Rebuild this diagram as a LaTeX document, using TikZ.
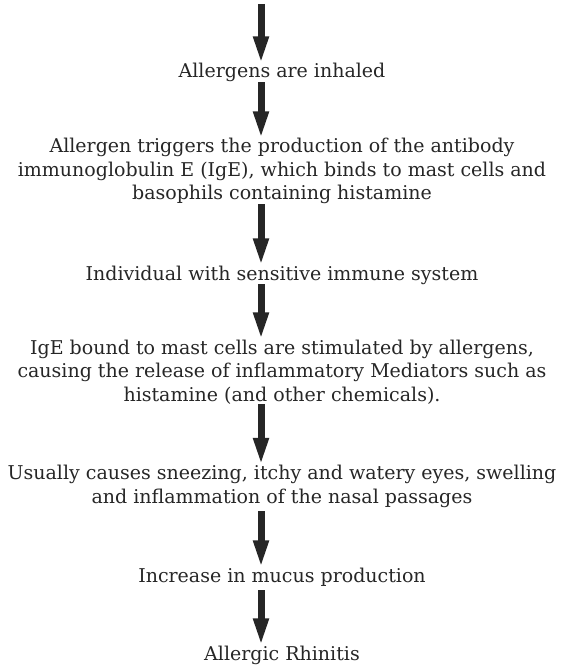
\documentclass[tikz,border=0pt]{standalone}
\usepackage{fontspec}
\setmainfont{DejaVu Serif}
\usetikzlibrary{arrows.meta}

\begin{document}
\begin{tikzpicture}[x=1pt,y=1pt,
  lbl/.style={inner sep=0pt,align=center,font=\fontsize{19}{23.5}\selectfont,text=black!85},
  flow/.style={line width=7pt,draw=black!85,-{Triangle[width=14pt,length=28pt]},shorten >=-1pt}]
\useasboundingbox (0,0) rectangle (564,-668);
\coordinate (start) at (261,-4);
\node[lbl,anchor=base] (inhale) at (282,-78) {Allergens are inhaled};
\node[lbl,anchor=base] (ige) at (282,-200) {Allergen triggers the production of the antibody\\
  immunoglobulin E (IgE), which binds to mast cells and\\ basophils containing histamine};
\node[lbl,anchor=base] (sens) at (282,-280) {Individual with sensitive immune system};
\node[lbl,anchor=base] (mast) at (282,-401) {IgE bound to mast cells are stimulated by allergens,\\
  causing the release of inflammatory Mediators such as\\ histamine (and other chemicals).};
\node[lbl,anchor=base] (sneeze) at (282,-503) {Usually causes sneezing, itchy and watery eyes, swelling\\
  and inflammation of the nasal passages};
\node[lbl,anchor=base] (mucus) at (282,-582) {Increase in mucus production};
\node[lbl,anchor=base] (rhin) at (282,-660) {Allergic Rhinitis};
% arrows between the steps
\draw[flow] (start) -- (start |- inhale.north);
\draw[flow] (start |- inhale.south) -- (start |- ige.north);
\draw[flow] (start |- ige.south) -- (start |- sens.north);
\draw[flow] (start |- sens.south) -- (start |- mast.north);
\draw[flow] (start |- mast.south) -- (start |- sneeze.north);
\draw[flow] ([yshift=-4pt]start |- sneeze.south) -- (start |- mucus.north);
\draw[flow] ([yshift=-4pt]start |- mucus.south) -- (start |- rhin.north);
\end{tikzpicture}
\end{document}
